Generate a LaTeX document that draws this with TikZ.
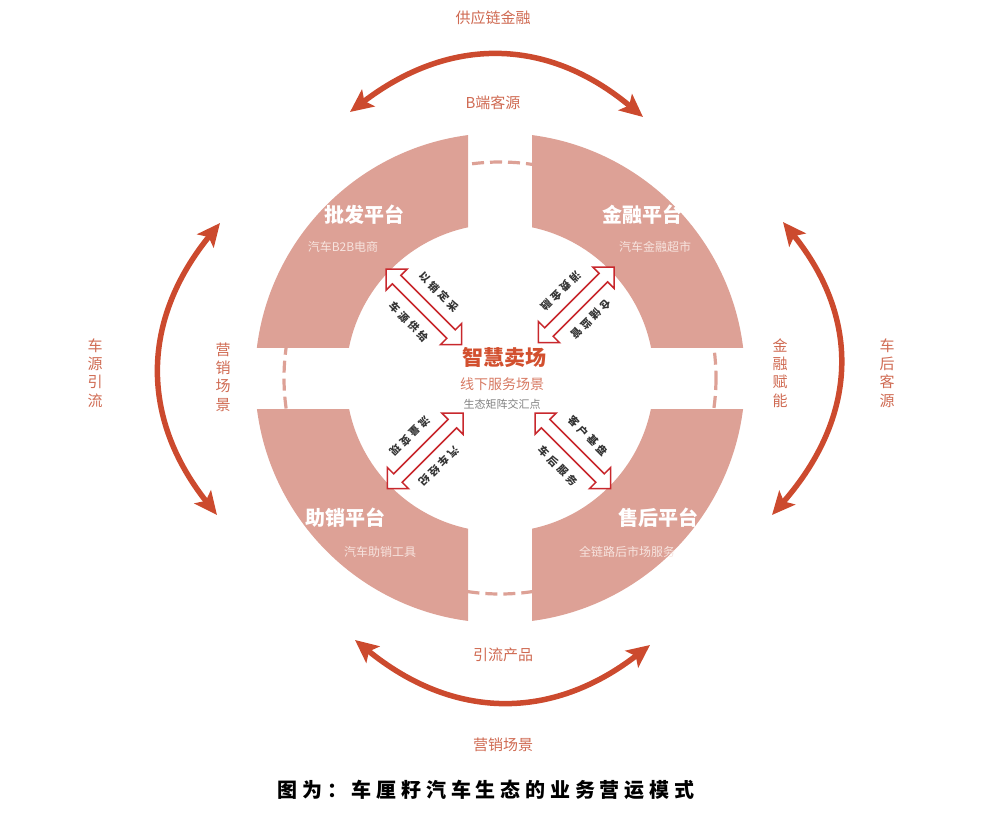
\documentclass[tikz,border=0pt]{standalone}
\usepackage{fontspec}
\newfontfamily\cjk{Noto Sans CJK SC}
\usetikzlibrary{arrows.meta}
\definecolor{ring}{HTML}{DDA196}
\definecolor{arcc}{HTML}{CC4A2E}
\definecolor{lbl}{HTML}{CF6A52}
\definecolor{ctr}{HTML}{D2502F}
\definecolor{ctrb}{HTML}{D77A63}
\definecolor{dred}{HTML}{C8282D}
\definecolor{subw}{HTML}{F7E4DF}
\begin{document}
\begin{tikzpicture}[x=1pt,y=-1pt,font=\cjk,
  bigarrow/.style={arcc, line width=5.5pt,
    {Stealth[length=23pt,width=21pt,inset=5pt]}-{Stealth[length=23pt,width=21pt,inset=5pt]}},
  quadtitle/.style={white, font=\cjk\bfseries\fontsize{20}{24}\selectfont},
  quadsub/.style={subw, font=\cjk\fontsize{12}{14}\selectfont},
  outlbl/.style={lbl, font=\cjk\fontsize{15}{18.3}\selectfont, align=center, inner sep=0},
  diaglbl/.style={black!80, inner sep=0, font=\cjk\bfseries\fontsize{10.5}{12}\selectfont\addfontfeatures{LetterSpace=28}},
  dblarr/.pic={\draw[draw=dred, fill=white, line width=1.5pt, line join=miter]
     (0,0) -- (15,15) -- (15,6) -- (92,6) -- (92,15) -- (107,0)
     -- (92,-15) -- (92,-6) -- (15,-6) -- (15,-15) -- cycle;}]
\useasboundingbox (0,0) rectangle (991,814);
\coordinate (O) at (500,378);

% dashed ring in the gaps
\draw[ring, line width=3.2pt, dash pattern=on 12pt off 6pt] (O) circle[radius=216];

% four quadrants
\foreach \sx/\sy in {-1/-1, 1/-1, -1/1, 1/1} {
  \begin{scope}
    \clip ({500+\sx*32},{378+\sy*31}) rectangle ({500+\sx*260},{378+\sy*260});
    \fill[ring, even odd rule] (O) circle[radius=245] (O) circle[radius=154];
  \end{scope}
}

% quadrant texts
\node[quadtitle] (q1) at (364,215) {批发平台};
\node[quadsub]   (q1s) at (343,247) {汽车B2B电商};
\node[quadtitle] (q2) at (642,215) {金融平台};
\node[quadsub]   (q2s) at (655,247) {汽车金融超市};
\node[quadtitle] (q3) at (345,518) {助销平台};
\node[quadsub]   (q3s) at (380,552) {汽车助销工具};
\node[quadtitle] (q4) at (658,518) {售后平台};
\node[quadsub]   (q4s) at (627,552) {全链路后市场服务};

% center
\node[ctr, font=\cjk\bfseries\fontsize{21}{24}\selectfont] (c1) at (504,357) {智慧卖场};
\node[ctrb, font=\cjk\fontsize{14}{16}\selectfont] (c2) at (502,384) {线下服务场景};
\node[black!50, font=\cjk\fontsize{11}{13}\selectfont] (c3) at (502,404) {生态矩阵交汇点};

% diagonal double arrows
\pic[rotate=-45]  at (386,269) {dblarr};
\pic[rotate=-135] at (614,267) {dblarr};
\pic[rotate=-135] at (463,413) {dblarr};
\pic[rotate=-45]  at (535,413) {dblarr};

\node[diaglbl, rotate=-45]  (d1) at (439,292) {以销定采};
\node[diaglbl, rotate=-45]  (d2) at (409,322) {车源供给};
\node[diaglbl, rotate=-135] (d3) at (561,291) {消费金融};
\node[diaglbl, rotate=-135] (d4) at (591,319) {仓储监管};
\node[diaglbl, rotate=-135] (d5) at (410,436) {流量变现};
\node[diaglbl, rotate=-135] (d6) at (439,466) {汽车经纪};
\node[diaglbl, rotate=-45]  (d7) at (588,436) {客户基盘};
\node[diaglbl, rotate=-45]  (d8) at (558,466) {车后服务};

% outer curved arrows
\coordinate (t0) at (350,112); \coordinate (t1) at (643,117);
\coordinate (b0) at (355,640); \coordinate (b1) at (650,645);
\coordinate (l0) at (220,223); \coordinate (l1) at (217,515);
\coordinate (r0) at (783,222); \coordinate (r1) at (772,515);
\draw[bigarrow] (t0) .. controls (450,35.7) and (547.7,37.3) .. (t1);
\draw[bigarrow] (b0) .. controls (453,719.7) and (551.3,721.3) .. (b1);
\draw[bigarrow] (l0) .. controls (141,320.3) and (140,417.7) .. (l1);
\draw[bigarrow] (r0) .. controls (861.3,319.3) and (857.7,417) .. (r1);

% outer labels
\node[outlbl] (o1) at (493,18) {供应链金融};
\node[outlbl] (o2) at (493,103) {B端客源};
\node[outlbl] (o3) at (503,655) {引流产品};
\node[outlbl] (o4) at (503,745) {营销场景};
\node[outlbl] (o5) at (95,373) {车\\源\\引\\流};
\node[outlbl] (o6) at (223,377) {营\\销\\场\\景};
\node[outlbl] (o7) at (780,373) {金\\融\\赋\\能};
\node[outlbl] (o8) at (887,373) {车\\后\\客\\源};

% caption
\node[black, font=\cjk\bfseries\fontsize{20}{24}\selectfont\addfontfeatures{LetterSpace=24}] (cap) at (486,790) {图为：车厘籽汽车生态的业务营运模式};
\end{tikzpicture}
\end{document}
